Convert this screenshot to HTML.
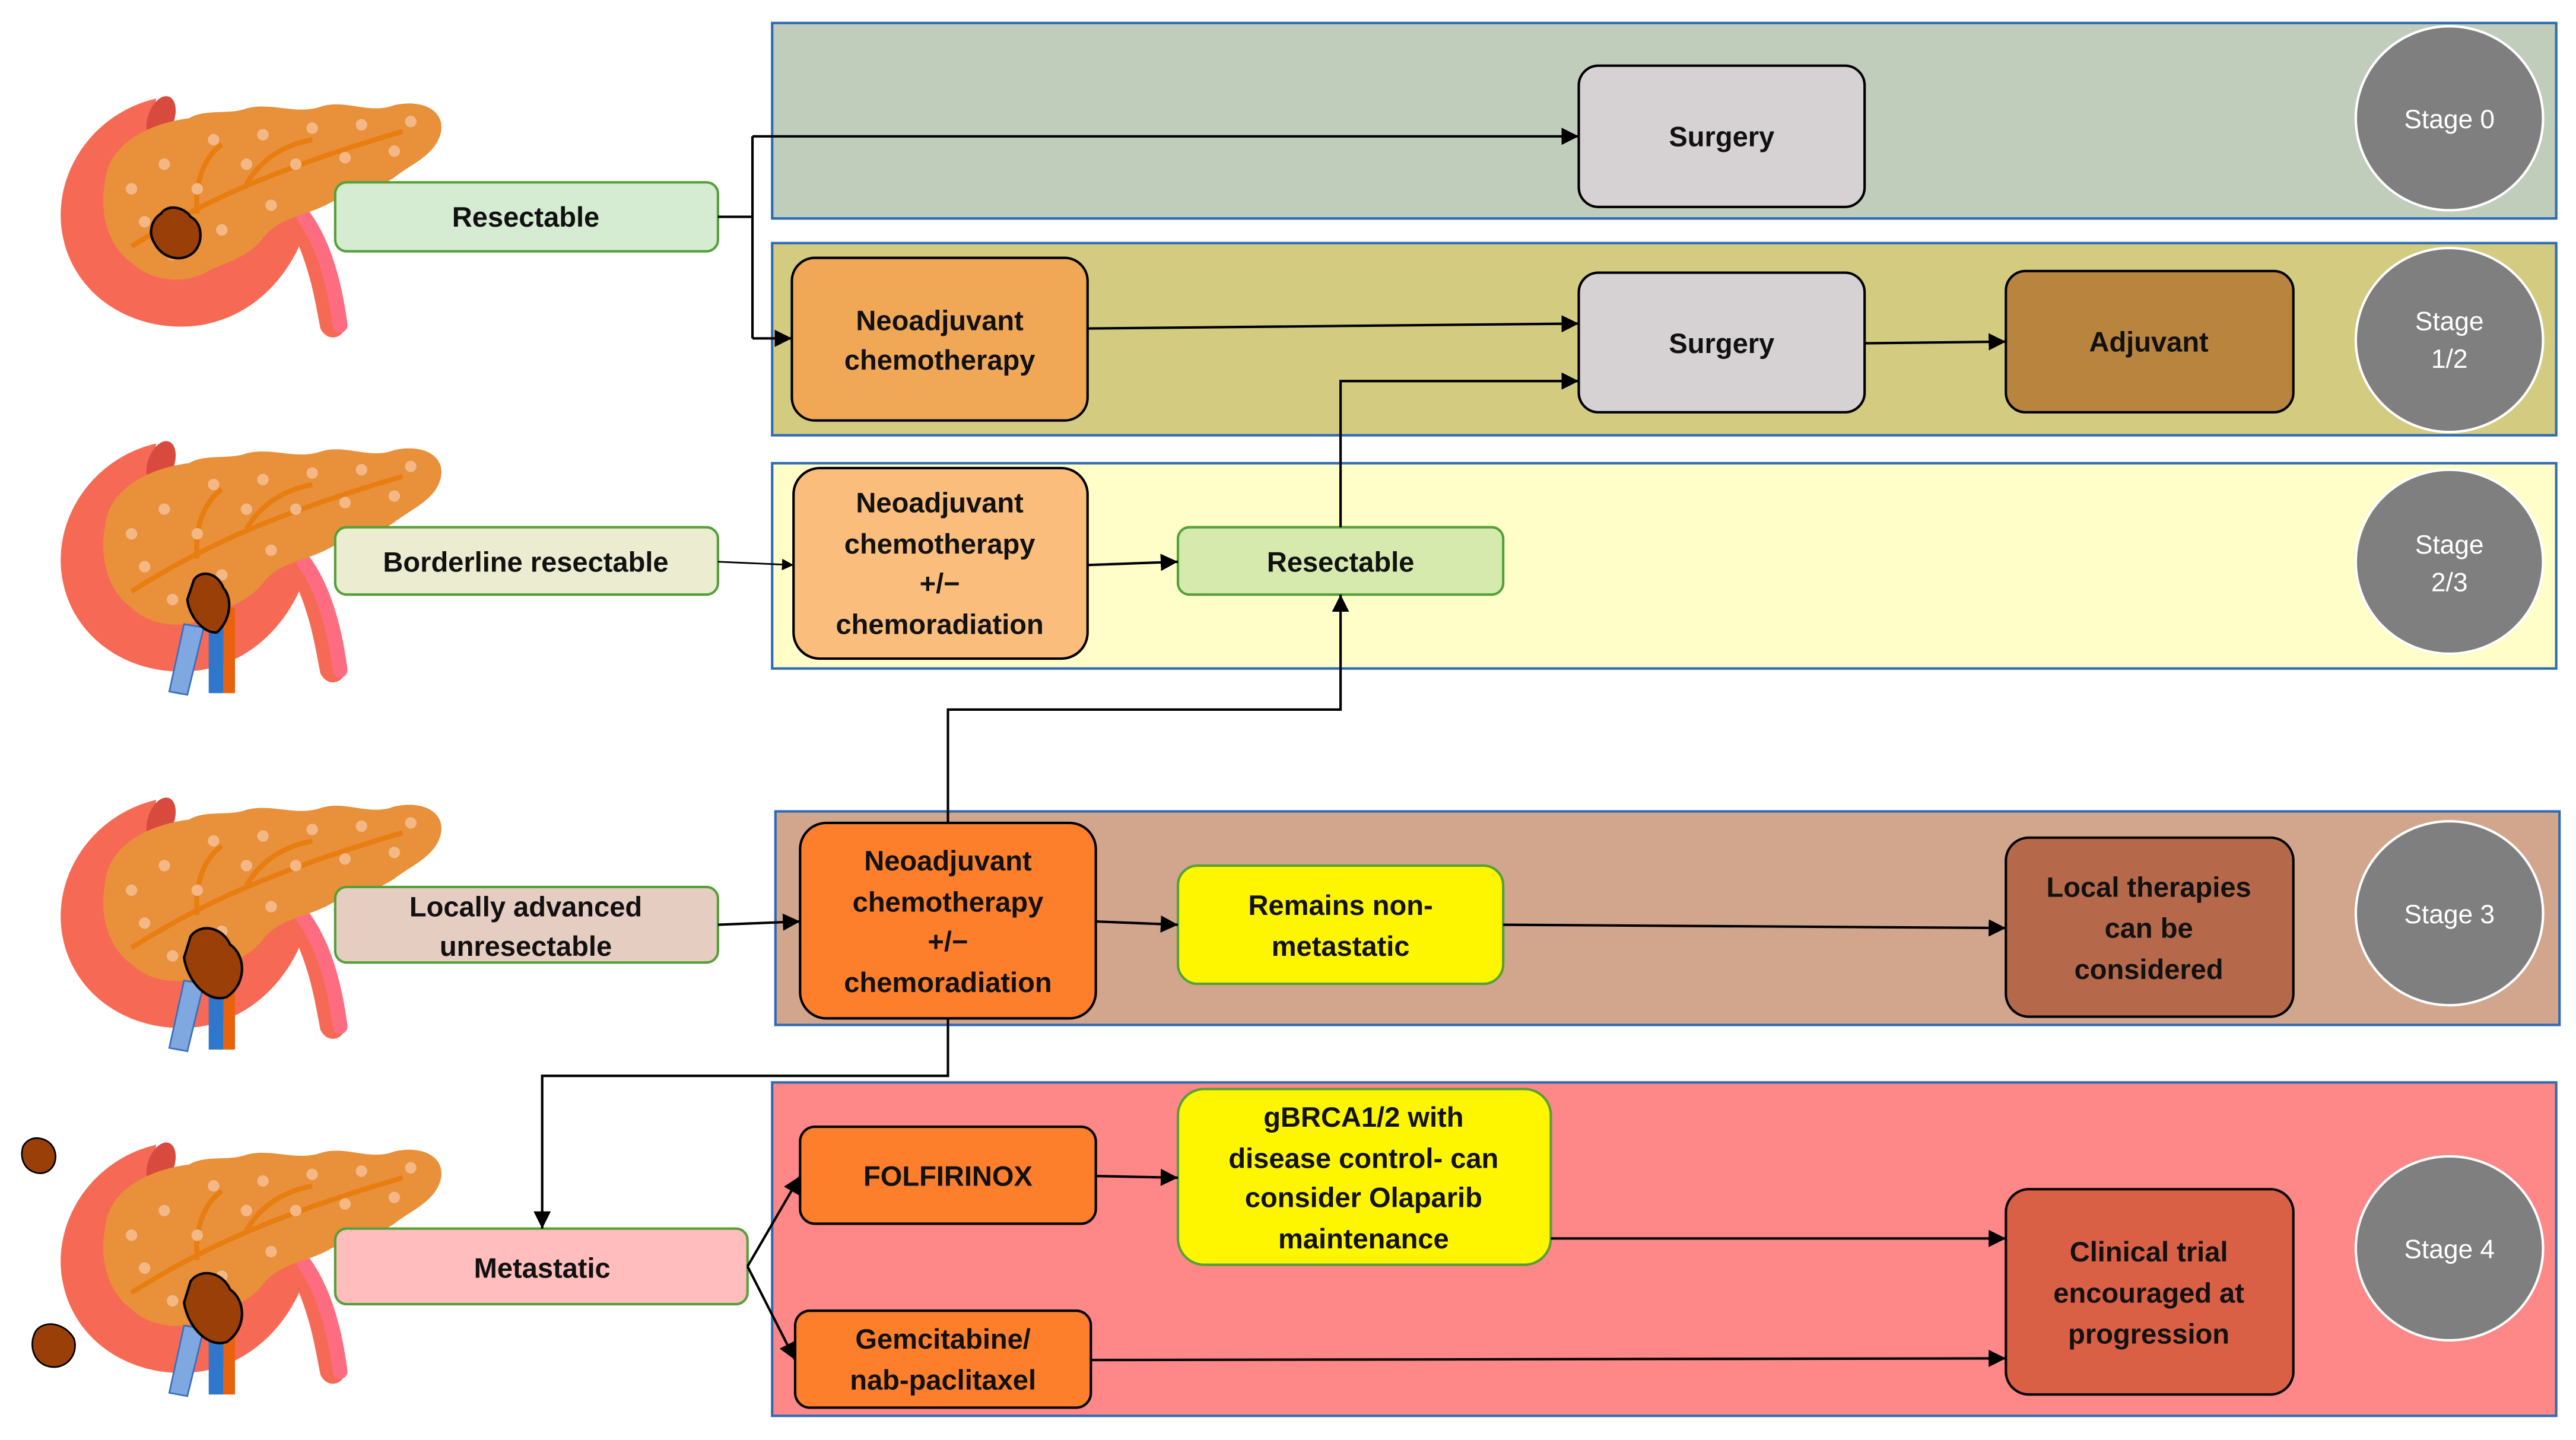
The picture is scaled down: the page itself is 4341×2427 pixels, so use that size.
<!DOCTYPE html>
<html><head><meta charset="utf-8"><style>
html,body{margin:0;padding:0;background:#fff;}
svg{display:block;}
text{font-family:"Liberation Sans",sans-serif;font-weight:bold;font-size:17px;fill:#111;text-anchor:middle;}
.st{fill:#fff;font-weight:normal;font-size:16px;}
</style></head><body>
<svg width="4341" height="2427" viewBox="0 0 1568 876.7" xmlns="http://www.w3.org/2000/svg">
<defs>
<marker id="a" viewBox="0 0 10 10" refX="10" refY="5" markerWidth="7" markerHeight="7" orient="auto"><path d="M0,0L10,5L0,10z" fill="#000"/></marker>
<g id="panc">
 <path d="M95,60 C60,68 35,100 37,135 C40,178 80,204 122,198 C152,193 172,172 182,150 C190,170 192,185 195,200 C200,210 212,205 210,195 C206,170 200,150 185,130 L130,150 C110,168 80,165 68,140 C58,118 68,92 92,84 Z" fill="#f66a55"/>
 <ellipse cx="98" cy="72" rx="8" ry="14" fill="#d84a3e" transform="rotate(20 98 72)"/>
 <path d="M185,132 C198,150 204,175 207,198" stroke="#fd6c80" stroke-width="9" fill="none" stroke-linecap="round"/>
 <path d="M64,110 C66,88 90,75 115,72 C125,66 140,70 150,66 C165,62 180,70 195,65 C210,60 225,70 240,64 C258,60 272,68 268,82 C264,95 250,100 240,108 C225,118 210,118 200,124 C185,132 170,132 160,145 C150,158 135,160 125,166 C110,174 90,170 80,160 C66,150 60,130 64,110 Z" fill="#e8903a"/>
 <path d="M80,150 C120,125 160,105 245,80 M150,112 C160,95 175,88 190,85 M120,130 C118,110 125,95 135,88" stroke="#e87d10" stroke-width="3" fill="none"/>
 <g fill="#f3b885"><circle cx="100" cy="100" r="3.5"/><circle cx="130" cy="85" r="3.5"/><circle cx="160" cy="82" r="3.5"/><circle cx="190" cy="78" r="3.5"/><circle cx="220" cy="76" r="3.5"/><circle cx="250" cy="74" r="3.5"/><circle cx="120" cy="115" r="3.5"/><circle cx="150" cy="100" r="3.5"/><circle cx="180" cy="100" r="3.5"/><circle cx="210" cy="96" r="3.5"/><circle cx="240" cy="92" r="3.5"/><circle cx="88" cy="135" r="3.5"/><circle cx="135" cy="140" r="3.5"/><circle cx="165" cy="125" r="3.5"/><circle cx="80" cy="115" r="3.5"/><circle cx="105" cy="155" r="3.5"/></g>
</g>
</defs>

<!-- bands -->
<g stroke="#2e6bb5" stroke-width="1.5">
<rect x="470" y="14" width="1086" height="119" fill="#c0cdbb"/>
<rect x="470" y="148" width="1086" height="117" fill="#d3cc80"/>
<rect x="470" y="282" width="1086" height="125" fill="#fffdc8"/>
<rect x="472" y="494" width="1086" height="130" fill="#d2a68c"/>
<rect x="470" y="659" width="1086" height="203" fill="#fe8787"/>
</g>
<g fill="#7f7f7f" stroke="#fff" stroke-width="1.5">
<ellipse cx="1491" cy="72" rx="57" ry="56"/>
<ellipse cx="1491" cy="207" rx="57" ry="56"/>
<ellipse cx="1491" cy="342" rx="57" ry="56"/>
<ellipse cx="1491" cy="556" rx="57" ry="56"/>
<ellipse cx="1491" cy="760" rx="57" ry="56"/>
</g>
<text class="st" x="1491" y="78">Stage 0</text>
<text class="st" x="1491" y="201">Stage</text><text class="st" x="1491" y="224">1/2</text>
<text class="st" x="1491" y="337">Stage</text><text class="st" x="1491" y="360">2/3</text>
<text class="st" x="1491" y="562">Stage 3</text>
<text class="st" x="1491" y="766">Stage 4</text>

<!-- pancreas illustrations -->
<use href="#panc"/>
<g fill="#9a3f08" stroke="#000" stroke-width="1.5"><path d="M98,130 C102,124 112,126 116,132 C124,136 124,150 116,155 C108,160 98,156 94,148 C90,142 92,134 98,130 Z"/></g>
<g transform="translate(0,210)"><use href="#panc"/>
<rect x="127" y="160" width="9" height="52" fill="#2f77cc"/><rect x="136" y="160" width="7" height="52" fill="#e9630e"/>
<path d="M112,170 L124,172 L114,213 L103,211 Z" fill="#7fa8e0" stroke="#3a6fc0"/>
<path d="M118,143 C122,137 132,138 136,148 C142,155 140,168 132,175 C124,176 115,165 114,155 Z" fill="#9a3f08" stroke="#000" stroke-width="1.5"/>
</g>
<g transform="translate(0,427)"><use href="#panc"/>
<rect x="127" y="160" width="9" height="52" fill="#2f77cc"/><rect x="136" y="160" width="7" height="52" fill="#e9630e"/>
<path d="M112,170 L124,172 L114,213 L103,211 Z" fill="#7fa8e0" stroke="#3a6fc0"/>
<path d="M116,143 C122,135 135,137 140,148 C150,155 150,172 138,180 C126,184 114,170 112,156 Z" fill="#9a3f08" stroke="#000" stroke-width="1.5"/>
</g>
<g transform="translate(0,637)"><use href="#panc"/>
<rect x="127" y="160" width="9" height="52" fill="#2f77cc"/><rect x="136" y="160" width="7" height="52" fill="#e9630e"/>
<path d="M112,170 L124,172 L114,213 L103,211 Z" fill="#7fa8e0" stroke="#3a6fc0"/>
<path d="M116,143 C122,135 135,137 140,148 C150,155 150,172 138,180 C126,184 114,170 112,156 Z" fill="#9a3f08" stroke="#000" stroke-width="1.5"/>
</g>
<path d="M14,698 C18,690 30,692 33,700 C36,708 30,716 22,714 C14,712 12,704 14,698 Z" fill="#9a3f08" stroke="#000" stroke-width="1"/>
<path d="M22,810 C28,803 40,806 45,815 C48,825 40,834 30,832 C20,830 17,818 22,810 Z" fill="#9a3f08" stroke="#000" stroke-width="1"/>

<!-- left labels -->
<g stroke="#56a03a" stroke-width="1.5">
<rect x="204" y="111" width="233" height="42" rx="7" fill="#d5ecd2"/>
<rect x="204" y="321" width="233" height="41" rx="7" fill="#ebecd0"/>
<rect x="204" y="540" width="233" height="46" rx="7" fill="#e6cdc1"/>
<rect x="204" y="748" width="251" height="46" rx="7" fill="#ffbdbd"/>
</g>
<text x="320" y="138">Resectable</text>
<text x="320" y="348">Borderline resectable</text>
<text x="320" y="558">Locally advanced</text><text x="320" y="582">unresectable</text>
<text x="330" y="778">Metastatic</text>

<!-- nodes -->
<g stroke="#000" stroke-width="1.5">
<rect x="961" y="40" width="174" height="86" rx="12" fill="#d6d1d3"/>
<rect x="482" y="157" width="180" height="99" rx="14" fill="#f0a857"/>
<rect x="961" y="166" width="174" height="85" rx="12" fill="#d6d1d3"/>
<rect x="1221" y="165" width="175" height="86" rx="12" fill="#b8843e"/>
<rect x="483" y="285" width="179" height="116" rx="16" fill="#fbbd7b"/>
<rect x="487" y="501" width="180" height="119" rx="16" fill="#fd7f2c"/>
<rect x="1221" y="510" width="175" height="109" rx="14" fill="#b5694a"/>
<rect x="487" y="686" width="180" height="59" rx="9" fill="#fd7f2c"/>
<rect x="484" y="798" width="180" height="59" rx="9" fill="#fd7f2c"/>
<rect x="1221" y="724" width="175" height="125" rx="14" fill="#d95f45"/>
</g>
<g stroke="#56a03a" stroke-width="1.5">
<rect x="717" y="321" width="198" height="41" rx="7" fill="#d6eaae"/>
<rect x="717" y="527" width="198" height="72" rx="12" fill="#fef600"/>
<rect x="717" y="663" width="227" height="107" rx="16" fill="#fef600"/>
</g>
<text x="1048" y="89">Surgery</text>
<text x="572" y="201">Neoadjuvant</text><text x="572" y="225">chemotherapy</text>
<text x="1048" y="215">Surgery</text>
<text x="1308" y="214">Adjuvant</text>
<text x="572" y="312">Neoadjuvant</text><text x="572" y="337">chemotherapy</text><text x="572" y="361">+/−</text><text x="572" y="386">chemoradiation</text>
<text x="816" y="348">Resectable</text>
<text x="577" y="530">Neoadjuvant</text><text x="577" y="555">chemotherapy</text><text x="577" y="579">+/−</text><text x="577" y="604">chemoradiation</text>
<text x="816" y="557">Remains non-</text><text x="816" y="582">metastatic</text>
<text x="1308" y="546">Local therapies</text><text x="1308" y="571">can be</text><text x="1308" y="596">considered</text>
<text x="577" y="722">FOLFIRINOX</text>
<text x="830" y="686">gBRCA1/2 with</text><text x="830" y="711">disease control- can</text><text x="830" y="735">consider Olaparib</text><text x="830" y="760">maintenance</text>
<text x="574" y="821">Gemcitabine/</text><text x="574" y="846">nab-paclitaxel</text>
<text x="1308" y="768">Clinical trial</text><text x="1308" y="793">encouraged at</text><text x="1308" y="818">progression</text>

<!-- connectors -->
<g stroke="#000" stroke-width="1.5" fill="none">
<polyline points="437,132 458,132"/>
<polyline points="458,83 458,206" />
<polyline points="458,83 961,83" marker-end="url(#a)"/>
<polyline points="458,206 482,206" marker-end="url(#a)"/>
<polyline points="662,200 961,197" marker-end="url(#a)"/>
<polyline points="1135,209 1221,208" marker-end="url(#a)"/>
<polyline points="816,321 816,232 961,232" marker-end="url(#a)"/>
<polyline points="437,342 483,344" stroke-width="1" marker-end="url(#a)"/>
<polyline points="662,344 717,342" marker-end="url(#a)"/>
<polyline points="577,501 577,432 816,432 816,362" marker-end="url(#a)"/>
<polyline points="437,563 487,561" marker-end="url(#a)"/>
<polyline points="667,561 717,563" marker-end="url(#a)"/>
<polyline points="915,563 1221,565" marker-end="url(#a)"/>
<polyline points="577,620 577,655 330,655 330,748" marker-end="url(#a)"/>
<polyline points="455,771 487,716" marker-end="url(#a)"/>
<polyline points="455,771 484,828" marker-end="url(#a)"/>
<polyline points="667,716 717,717" marker-end="url(#a)"/>
<polyline points="944,754 1221,754" marker-end="url(#a)"/>
<polyline points="664,828 1221,827" marker-end="url(#a)"/>
</g>
</svg>
</body></html>
